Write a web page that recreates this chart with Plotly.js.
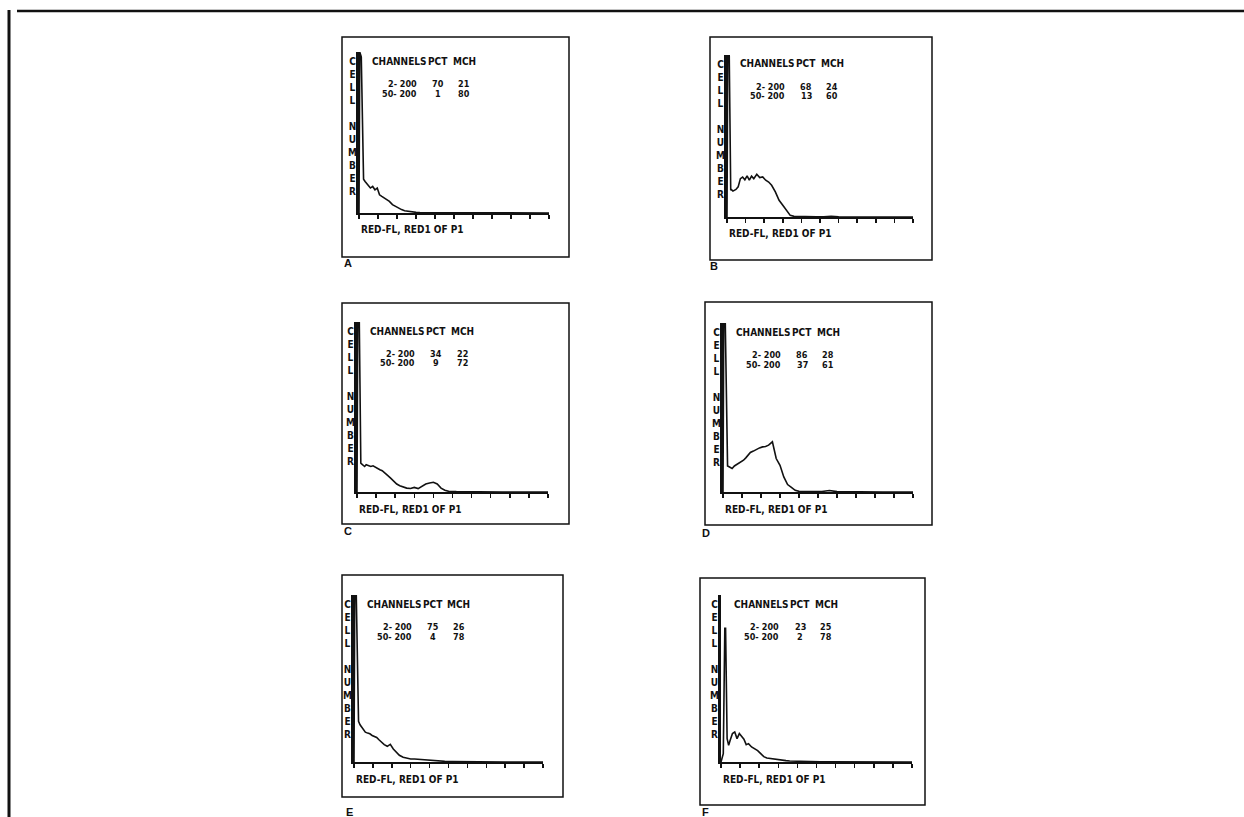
<!DOCTYPE html>
<html><head><meta charset="utf-8">
<script src="https://cdn.plot.ly/plotly-3.0.1.min.js"></script>
<style>html,body{margin:0;padding:0;background:#fff}#chart{width:1244px;height:817px}</style>
</head><body><div id="chart"></div>
<script>
// ---- data ----
const panelLabels = ['A', 'B', 'C', 'D', 'E', 'F'];
const channels = [0,1,3,5,6,8,10,12,15,18,21,24,27,30,33,36,40,44,48,52,56,60,65,70,75,80,85,90,95,100,105,110,115,120,130,140,150,160,170,180,190,200,210,220,230,240,250];
const countsA = [0,100,97,30,21,19.6,18.5,17.5,15.5,16.5, 14.4,15.5,11.3,10.3,9.3,8.2,7.2,5.2,4.1,2.7, 2.1,1.4,1.0,0.6,0.4,0.3,0.3,0.2,0.2,0.2, 0.1,0.1,0.1,0.1,0,0,0,0,0,0, 0,0,0,0,0,0,0];
const countsB = [0,100,100,16.5,16.9,16,16.5,17,18.6,23.7, 24.7,23,25.4,22.7,25.2,23.7,26.4,24.3,24.7,22.7, 21.6,19.6,15.5,10.3,7.2,4.1,1.0,0.4,0.3,0.2, 0.3,0.3,0.2,0.2,0.1,0.5,0.2,0.1,0.1,0.1, 0,0,0,0,0,0,0];
const countsC = [0,100,100,17,16.5,16,15,16,15.6,15, 15.4,14.5,13.7,13.1,12.5,11.5,9.8,8.2,6.3,4.7, 3.7,2.9,2.3,2.1,2.7,2.0,3.3,4.7,5.3,5.7, 4.7,2.3,1.0,0.4,0.2,0.1,0.1,0,0,0, 0,0,0,0,0,0,0];
const countsD = [0,100,100,16.8,15.4,14.9,14.3,13.9,15.4,16.2, 16.8,17.8,18.8,20.2,21.8,23.4,24.2,25.3,26.1,26.7, 26.9,27.7,29.7,19.8,15.8,8.9,4.4,2.8,1.0,0.4, 0.3,0.4,0.2,0.2,0.3,0.9,0.2,0.1,0.1,0, 0,0,0,0,0,0,0];
const countsE = [0,100,100,27.3,24.3,22.3,20.9,19.3,17.9,17.3, 16.9,15.9,15.3,14.7,13.3,11.8,10.4,9.4,10.6,7.8, 5.8,4.0,2.8,2.2,1.8,1.8,1.6,1.4,1.2,1.0, 0.8,0.6,0.5,0.4,0.3,0.2,0.2,0.1,0.1,0.1, 0,0,0,0,0,0,0];
const countsF = [0,2,5,80,80,14,10,13,17,18, 14,17,15,13.6,10.4,11,9,8,6.8,5, 3.2,2.4,2,1.6,1.4,1.0,0.8,0.6,0.5,0.4, 0.4,0.3,0.2,0.2,0.1,0.1,0.1,0,0,0, 0,0,0,0,0,0,0];
const gateRanges = ['2- 200', '50- 200'];
const pctGate1 = [70, 68, 34, 86, 75, 23];
const pctGate2 = [1, 13, 9, 37, 4, 2];
const mchGate1 = [21, 24, 22, 28, 26, 25];
const mchGate2 = [80, 60, 72, 61, 78, 78];
const headerCols = ['CHANNELS', 'PCT', 'MCH'];
const xTitle = 'RED-FL, RED1 OF P1';
const yTitle = 'CELL NUMBER';
const allCounts = [countsA, countsB, countsC, countsD, countsE, countsF];

// ---- layout geometry (pixels) ----
const W = 1244, H = 817;
const geo = [
  {ox:359, oy:213, top:52,  xend:549, box:[342,37,569,257],  lab:[342,263]},
  {ox:727, oy:217, top:55,  xend:913, box:[710,37,932,260],  lab:[708,266]},
  {ox:357, oy:492, top:322, xend:548, box:[342,303,569,524], lab:[342,531]},
  {ox:723, oy:492, top:323, xend:913, box:[705,302,932,525], lab:[700,533]},
  {ox:354, oy:762, top:595, xend:543, box:[342,575,563,797], lab:[344,812]},
  {ox:721, oy:762, top:595, xend:912, box:[700,578,925,805], lab:[700,812]}
];
const X = p => p / W, Y = p => 1 - p / H;
const FONT = 'Liberation Sans Narrow, DejaVu Sans Condensed, Arial Narrow, Liberation Sans, sans-serif';

const data = [], shapes = [], annotations = [];
const layout = {
  width: W, height: H, margin: {l:0, r:0, t:0, b:0},
  paper_bgcolor: '#fff', plot_bgcolor: 'rgba(0,0,0,0)', showlegend: false
};

function txt(text, x, y, size, xanchor, yanchor, extra) {
  annotations.push(Object.assign({
    text: text, xref: 'paper', yref: 'paper', x: X(x), y: Y(y),
    xanchor: xanchor, yanchor: yanchor, showarrow: false,
    font: {family: FONT, size: size, color: '#111', weight: 700}
  }, extra || {}));
}

geo.forEach((g, i) => {
  const n = i + 1, sfx = n === 1 ? '' : String(n);
  data.push({
    x: channels, y: allCounts[i], type: 'scatter', mode: 'lines',
    xaxis: 'x' + sfx, yaxis: 'y' + sfx,
    line: {color: '#111', width: 1.6, shape: 'linear'}, hoverinfo: 'skip'
  });
  layout['xaxis' + sfx] = {
    domain: [X(g.ox), X(g.xend)], anchor: 'y' + sfx, range: [0, 250],
    showline: true, linecolor: '#111', linewidth: 2,
    ticks: 'outside', ticklen: 4, tickwidth: 1.5, tickcolor: '#111',
    tick0: 0, dtick: 25, showticklabels: false, showgrid: false, zeroline: false, fixedrange: true
  };
  layout['yaxis' + sfx] = {
    domain: [Y(g.oy), Y(g.top)], anchor: 'x' + sfx, range: [0, 100],
    showline: true, linecolor: '#111', linewidth: 3,
    ticks: '', showticklabels: false, showgrid: false, zeroline: false, fixedrange: true
  };
  // panel frame
  shapes.push({type:'rect', xref:'paper', yref:'paper',
    x0: X(g.box[0]), x1: X(g.box[2]), y0: Y(g.box[3]), y1: Y(g.box[1]),
    line: {color:'#111', width: 1.5}});
  // header
  txt(headerCols[0], g.ox + 11, g.top + 9, 10, 'left', 'middle');
  txt(headerCols[1], g.ox + 79, g.top + 9, 10, 'center', 'middle');
  txt(headerCols[2], g.ox + 105, g.top + 9, 10, 'center', 'middle');
  // gate rows
  const rows = [[gateRanges[0], pctGate1[i], mchGate1[i]], [gateRanges[1], pctGate2[i], mchGate2[i]]];
  rows.forEach((r, k) => {
    const yy = g.top + 32 + k * 9.5;
    txt(r[0], g.ox + 60, yy, 9, 'right', 'middle');
    txt(String(r[1]), g.ox + 79, yy, 9, 'center', 'middle');
    txt(String(r[2]), g.ox + 105, yy, 9, 'center', 'middle');
  });
  // axis titles
  txt(xTitle, g.ox, g.oy + 17, 10, 'left', 'middle');
  txt(yTitle.split('').map(c => c === ' ' ? '&nbsp;' : c).join('<br>'), g.ox - 7, g.top + 2, 10, 'center', 'top');
  // panel label
  txt(panelLabels[i], g.lab[0], g.lab[1], 11, 'left', 'middle',
    {font: {family: 'Liberation Sans, Arial, sans-serif', size: 11, color: '#111', weight: 700}});
});

// outer page frame
shapes.push({type:'line', xref:'paper', yref:'paper', x0: X(17), x1: X(1244), y0: Y(11), y1: Y(11), line:{color:'#111', width:2.5}});
shapes.push({type:'line', xref:'paper', yref:'paper', x0: X(9), x1: X(9), y0: Y(10), y1: Y(817), line:{color:'#111', width:3}});

layout.shapes = shapes;
layout.annotations = annotations;
Plotly.newPlot('chart', data, layout, {staticPlot: true, displayModeBar: false});
</script></body></html>
